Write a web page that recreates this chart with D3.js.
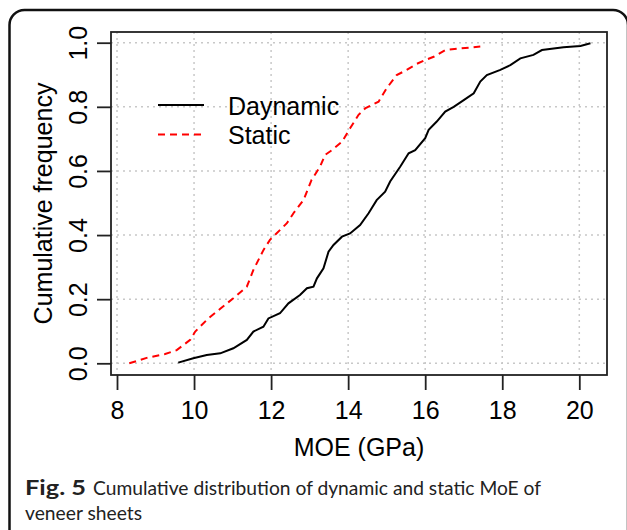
<!DOCTYPE html>
<html>
<head>
<meta charset="utf-8">
<script src="https://cdn.jsdelivr.net/npm/d3@7"></script>
<style>
  body { margin: 0; background: #fff; }
  text { font-family: "Liberation Sans", Arial, sans-serif; }
  .caption { font-family: Lato, "Open Sans", sans-serif; fill: #222; }
</style>
</head>
<body>
<div id="chart"></div>
<script>
// values (MOE in GPa, cumulative frequency)
var dynMoe  = [9.59, 9.98, 10.33, 10.68, 11.02, 11.37, 11.54, 11.80, 11.93, 12.23, 12.45, 12.75, 12.93, 13.10, 13.19,
               13.36, 13.49, 13.62, 13.84, 14.05, 14.31, 14.53, 14.74, 14.96, 15.09, 15.35, 15.57, 15.74, 16.00, 16.09,
               16.30, 16.52, 16.74, 17.00, 17.26, 17.43, 17.60, 17.95, 18.21, 18.47, 18.81, 19.03, 19.59, 20.03, 20.29];
var dynFreq = [0.002, 0.016, 0.026, 0.031, 0.047, 0.073, 0.099, 0.114, 0.140, 0.156, 0.187, 0.213, 0.234, 0.239, 0.265,
               0.296, 0.348, 0.369, 0.395, 0.405, 0.431, 0.468, 0.509, 0.535, 0.567, 0.613, 0.655, 0.665, 0.702, 0.728,
               0.754, 0.785, 0.800, 0.821, 0.842, 0.879, 0.899, 0.915, 0.930, 0.951, 0.962, 0.977, 0.986, 0.990, 0.998];

var staticMoe  = [8.32, 8.77, 9.25, 9.55, 9.90, 10.03, 10.37, 10.68, 11.02, 11.37, 11.54, 11.80, 11.97, 12.41, 12.58,
                  12.84, 13.05, 13.27, 13.40, 13.58, 13.84, 14.05, 14.27, 14.44, 14.79, 15.00, 15.26, 15.52, 15.78, 16.00,
                  16.22, 16.52, 16.91, 17.43];
var staticFreq = [0.000, 0.017, 0.029, 0.041, 0.073, 0.099, 0.140, 0.170, 0.203, 0.239, 0.291, 0.353, 0.385, 0.437, 0.468,
                  0.509, 0.572, 0.613, 0.650, 0.665, 0.691, 0.733, 0.775, 0.795, 0.816, 0.858, 0.899, 0.915, 0.934, 0.946,
                  0.956, 0.977, 0.982, 0.988];

var xTicks = [8, 10, 12, 14, 16, 18, 20];
var yTicks = [0, 0.2, 0.4, 0.6, 0.8, 1.0];
var seriesNames = ["Daynamic", "Static"];
var captionBold = "Fig. 5";
var captionLine1 = "Cumulative distribution of dynamic and static MoE of";
var captionLine2 = "veneer sheets";

var width = 627;
var height = 530;

var svg = d3.select("#chart")
        .append("svg")
        .attr("width", width)
        .attr("height", height);

// outer figure frame (bottom runs off the picture)
svg.append("rect")
        .attr("x", 9.5)
        .attr("y", 10)
        .attr("width", 618.5)
        .attr("height", 560)
        .attr("rx", 15)
        .attr("fill", "none")
        .attr("stroke", "#111")
        .attr("stroke-width", 2.5);

// plot region
var box = {left: 111, top: 32, right: 607, bottom: 375};

var x = d3.scaleLinear().domain([8, 20]).range([117, 579.3]);
var y = d3.scaleLinear().domain([0, 1]).range([363.3, 42.7]);

// dotted grid
svg.append("g").selectAll("line")
        .data(xTicks)
        .enter().append("line")
        .attr("x1", d => x(d)).attr("x2", d => x(d))
        .attr("y1", box.top).attr("y2", box.bottom)
        .attr("stroke", "#c8c8c8")
        .attr("stroke-width", 1.5)
        .attr("stroke-dasharray", "2,4");

svg.append("g").selectAll("line")
        .data(yTicks)
        .enter().append("line")
        .attr("x1", box.left).attr("x2", box.right)
        .attr("y1", d => y(d)).attr("y2", d => y(d))
        .attr("stroke", "#c8c8c8")
        .attr("stroke-width", 1.5)
        .attr("stroke-dasharray", "2,4");

// axes
var xAxis = svg.append("g")
        .attr("transform", "translate(0," + box.bottom + ")")
        .call(d3.axisBottom(x).tickValues(xTicks).tickSize(15).tickPadding(3).tickFormat(d3.format("d")));
xAxis.select(".domain").remove();
xAxis.selectAll("line").attr("stroke", "#222").attr("stroke-width", 1.8);
xAxis.selectAll("text").attr("font-size", 25).attr("fill", "#000").attr("dy", null).attr("y", 44);

var yAxis = svg.append("g")
        .attr("transform", "translate(" + box.left + ",0)")
        .call(d3.axisLeft(y).tickValues(yTicks).tickSize(14).tickFormat(d3.format(".1f")));
yAxis.select(".domain").remove();
yAxis.selectAll("line").attr("stroke", "#222").attr("stroke-width", 1.8);
yAxis.selectAll("text")
        .attr("font-size", 25)
        .attr("fill", "#000")
        .attr("x", null).attr("dy", null)
        .attr("text-anchor", "middle")
        .attr("transform", "translate(-24,0) rotate(-90)");

// box around plot
svg.append("rect")
        .attr("x", box.left)
        .attr("y", box.top)
        .attr("width", box.right - box.left)
        .attr("height", box.bottom - box.top)
        .attr("fill", "none")
        .attr("stroke", "#222")
        .attr("stroke-width", 1.8);

// axis titles
svg.append("text")
        .attr("x", (box.left + box.right) / 2)
        .attr("y", 456)
        .attr("text-anchor", "middle")
        .attr("font-size", 25)
        .text("MOE (GPa)");

svg.append("text")
        .attr("transform", "translate(52," + (box.top + box.bottom) / 2 + ") rotate(-90)")
        .attr("text-anchor", "middle")
        .attr("font-size", 25)
        .text("Cumulative frequency");

// curves
var line = d3.line()
        .x(d => x(d[0]))
        .y(d => y(d[1]));

svg.append("path")
        .datum(d3.zip(staticMoe, staticFreq))
        .attr("d", line)
        .attr("fill", "none")
        .attr("stroke", "#ff0000")
        .attr("stroke-width", 2)
        .attr("stroke-dasharray", "7,5");

svg.append("path")
        .datum(d3.zip(dynMoe, dynFreq))
        .attr("d", line)
        .attr("fill", "none")
        .attr("stroke", "#000")
        .attr("stroke-width", 2);

// legend
var legend = svg.append("g").attr("transform", "translate(158,105)");
legend.append("line")
        .attr("x1", 0).attr("x2", 46).attr("y1", 0).attr("y2", 0)
        .attr("stroke", "#000").attr("stroke-width", 2);
legend.append("line")
        .attr("x1", 0).attr("x2", 46).attr("y1", 29.5).attr("y2", 29.5)
        .attr("stroke", "#ff0000").attr("stroke-width", 2)
        .attr("stroke-dasharray", "7,5");
legend.selectAll("text")
        .data(seriesNames)
        .enter().append("text")
        .attr("x", 70)
        .attr("y", (d, i) => 9.5 + i * 29.5)
        .attr("font-size", 25)
        .text(d => d);

// caption below the chart, fitted to the widths it has in the figure
svg.append("text")
        .attr("class", "caption")
        .attr("x", 25)
        .attr("y", 495)
        .attr("font-size", 20)
        .attr("font-weight", "bold")
        .attr("textLength", 61)
        .attr("lengthAdjust", "spacingAndGlyphs")
        .text(captionBold);

svg.append("text")
        .attr("class", "caption")
        .attr("x", 93)
        .attr("y", 495)
        .attr("font-size", 20)
        .attr("textLength", 448)
        .attr("lengthAdjust", "spacingAndGlyphs")
        .text(captionLine1);

svg.append("text")
        .attr("class", "caption")
        .attr("x", 25)
        .attr("y", 520)
        .attr("font-size", 20)
        .attr("textLength", 117)
        .attr("lengthAdjust", "spacingAndGlyphs")
        .text(captionLine2);
</script>
</body>
</html>
